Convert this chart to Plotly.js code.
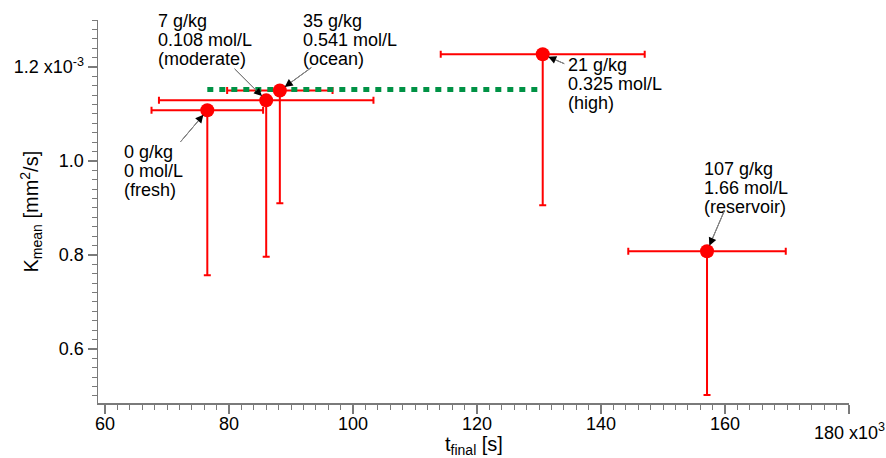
<!DOCTYPE html>
<html>
<head>
<meta charset="utf-8">
<script src="https://cdn.plot.ly/plotly-3.0.1.min.js"></script>
<style>html,body{margin:0;padding:0;background:#fff;}#chart{width:886px;height:458px;}</style>
</head>
<body>
<div id="chart"></div>
<script>
// ---- data (t in 10^3 s, K in 10^-3 mm^2/s) ----
const tFinal     = [76.5, 86.0, 88.2, 130.6, 157.1];
const tErr       = [9.0, 17.3, 8.5, 16.45, 12.7];
const kMean      = [1.108, 1.129, 1.150, 1.227, 0.808];
const kErrMinus  = [0.351, 0.333, 0.240, 0.321, 0.306];
const kErrPlus   = [0, 0, 0, 0, 0];
const salinity   = ["0 g/kg", "7 g/kg", "35 g/kg", "21 g/kg", "107 g/kg"];
const molarity   = ["0 mol/L", "0.108 mol/L", "0.541 mol/L", "0.325 mol/L", "1.66 mol/L"];
const category   = ["(fresh)", "(moderate)", "(ocean)", "(high)", "(reservoir)"];
const meanLineT  = [76.5, 130.6];
const meanLineK  = [1.152, 1.152];
const xTickVals  = [60, 80, 100, 120, 140, 160, 180];
const xTickText  = ["60", "80", "100", "120", "140", "160", ""];
const yTickVals  = [0.6, 0.8, 1.0, 1.2];
const yTickText  = ["0.6", "0.8", "1.0", "1.2 x10<sup>-3</sup>"];

// ---- layout helpers (pixel offsets of label blocks and arrow tails) ----
const labelDx = [-84, -109, 22, 24, -4];
const labelDy = [35, -86, -76, 4, -89];
const arrowDx = [-28, -33, 33, 23, 18];
const arrowDy = [33, -33, -24, 10, -42];
const lineGap = 19;

const FONT = "Liberation Sans, Arial, Helvetica, sans-serif";
const FS = 18;

const traces = [
  { // error bars only
    x: tFinal, y: kMean, type: "scatter", mode: "markers",
    marker: {color: "rgba(0,0,0,0)", size: 1},
    error_x: {type: "data", array: tErr, color: "#ff0000", thickness: 2, width: 3.5},
    error_y: {type: "data", symmetric: false, array: kErrPlus, arrayminus: kErrMinus, color: "#ff0000", thickness: 2, width: 3.5},
    hoverinfo: "skip", showlegend: false
  },
  { // mean line
    x: meanLineT, y: meanLineK, type: "scatter", mode: "lines",
    line: {color: "#009245", width: 5, dash: "6px,6px"},
    showlegend: false
  },
  { // markers
    x: tFinal, y: kMean, type: "scatter", mode: "markers",
    marker: {color: "#ff0000", size: 14, line: {width: 0}},
    showlegend: false
  }
];

const annotations = [];
for (let i = 0; i < tFinal.length; i++) {
  const lines = [salinity[i], molarity[i], category[i]];
  lines.forEach((txt, j) => {
    annotations.push({
      x: tFinal[i], y: kMean[i], xref: "x", yref: "y",
      text: txt, showarrow: false, xanchor: "left", yanchor: "top",
      xshift: labelDx[i] - 1, yshift: -(labelDy[i] - 5 + j * lineGap),
      font: {family: FONT, size: FS, color: "#000"}
    });
  });
  // black arrow head
  annotations.push({
    x: tFinal[i], y: kMean[i], xref: "x", yref: "y", text: "",
    showarrow: true, ax: arrowDx[i], ay: arrowDy[i],
    arrowhead: 2, arrowsize: 2, arrowwidth: 0.8, arrowcolor: "#000", standoff: 6
  });
  // thin gray line over it
  annotations.push({
    x: tFinal[i], y: kMean[i], xref: "x", yref: "y", text: "",
    showarrow: true, ax: arrowDx[i], ay: arrowDy[i],
    arrowhead: 0, arrowwidth: 1, arrowcolor: "#8a8a8a", standoff: 14
  });
}
// x10^3 label at the end of x axis
annotations.push({
  x: 180, y: 0, xref: "x", yref: "paper", text: "180 x10<sup>3</sup>",
  showarrow: false, xanchor: "center", yanchor: "top", yshift: -15,
  font: {family: FONT, size: FS, color: "#000"}
});
// y title
annotations.push({
  x: 0, y: 0.5, xref: "paper", yref: "paper", text: "K<sub>mean</sub> [mm<sup>2</sup>/s]",
  showarrow: false, textangle: -90, xanchor: "center", yanchor: "middle", xshift: -67,
  font: {family: FONT, size: 20, color: "#000"}
});
// x title
annotations.push({
  x: 0.5, y: 0, xref: "paper", yref: "paper", text: "t<sub>final</sub> [s]",
  showarrow: false, xanchor: "center", yanchor: "top", yshift: -28,
  font: {family: FONT, size: 20, color: "#000"}
});

const layout = {
  width: 886, height: 458,
  margin: {l: 98, r: 37, t: 20, b: 55},
  paper_bgcolor: "#fff", plot_bgcolor: "#fff",
  font: {family: FONT, size: FS, color: "#000"},
  showlegend: false,
  xaxis: {
    range: [58.87, 180], showgrid: false, zeroline: false,
    showline: true, linecolor: "#7a7a7a", linewidth: 1.5,
    ticks: "outside", ticklen: 9, tickwidth: 1.5, tickcolor: "#7a7a7a",
    tickvals: xTickVals, ticktext: xTickText, ticklabelstandoff: -5,
    tickfont: {family: FONT, size: FS, color: "#000"},
    minor: {dtick: 2, ticks: "outside", ticklen: 5, tickwidth: 1, tickcolor: "#7a7a7a", showgrid: false}
  },
  yaxis: {
    range: [0.485, 1.3], showgrid: false, zeroline: false,
    showline: true, linecolor: "#7a7a7a", linewidth: 1.5,
    ticks: "outside", ticklen: 9, tickwidth: 1.5, tickcolor: "#7a7a7a",
    tickvals: yTickVals, ticktext: yTickText,
    tickfont: {family: FONT, size: FS, color: "#000"},
    minor: {dtick: 0.02, ticks: "outside", ticklen: 5, tickwidth: 1, tickcolor: "#7a7a7a", showgrid: false}
  },
  annotations: annotations
};

Plotly.newPlot("chart", traces, layout, {displayModeBar: false, staticPlot: true});
</script>
</body>
</html>
